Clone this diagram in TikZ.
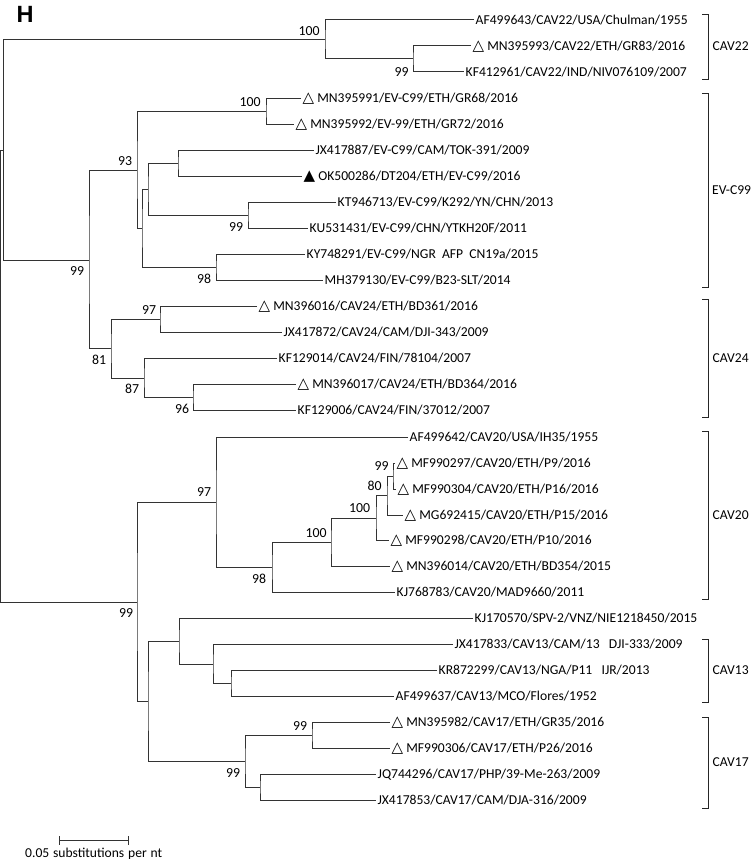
\documentclass[tikz,border=0pt]{standalone}
\usepackage{fontspec}
\setmainfont{Carlito}
\newfontfamily\trifont{DejaVu Sans}
\newfontfamily\hfont{Liberation Sans}
\newcommand{\opn}{{\trifont\fontsize{15}{16}\selectfont △}}
\newcommand{\fil}{{\trifont\fontsize{15}{16}\selectfont ▲}}
\tikzset{
  branch/.style={draw=black!80, line width=1pt},
  leaf/.style={anchor=west, inner xsep=1.5pt, inner ysep=0pt, text height=11pt, text depth=2.2pt, font=\fontsize{13.6}{16}\selectfont},
  boot/.style={anchor=center, inner sep=0pt, text height=11pt, text depth=2.2pt, font=\fontsize{13.8}{16}\selectfont},
  clade/.style={anchor=west, inner sep=0pt, text height=11pt, text depth=2.2pt, font=\fontsize{13.6}{16}\selectfont},
  bracket/.style={draw=black!85, line width=1pt},
}
\begin{document}
\begin{tikzpicture}[x=1pt,y=-1pt]
\useasboundingbox (0,0) rectangle (750,859);
\node[font=\hfont\bfseries\fontsize{23.5}{26}\selectfont, inner sep=0pt] (title) at (25,14.5) {H};
% leaves
\node[leaf] (l1) at (474,20) {AF499643/CAV22/USA/Chulman/1955};
\node[leaf] (l2) at (471,46) {\opn\ MN395993/CAV22/ETH/GR83/2016};
\node[leaf] (l3) at (464,72) {KF412961/CAV22/IND/NIV076109/2007};
\node[leaf] (l4) at (301,98) {\opn\ MN395991/EV-C99/ETH/GR68/2016};
\node[leaf] (l5) at (294,124) {\opn\ MN395992/EV-99/ETH/GR72/2016};
\node[leaf] (l6) at (314,150) {JX417887/EV-C99/CAM/TOK-391/2009};
\node[leaf] (l7) at (302,176) {\fil\ OK500286/DT204/ETH/EV-C99/2016};
\node[leaf] (l8) at (336,202) {KT946713/EV-C99/K292/YN/CHN/2013};
\node[leaf] (l9) at (308,228) {KU531431/EV-C99/CHN/YTKH20F/2011};
\node[leaf] (l10) at (305,254) {KY748291/EV-C99/NGR\ \ AFP\ \ CN19a/2015};
\node[leaf] (l11) at (323,280) {MH379130/EV-C99/B23-SLT/2014};
\node[leaf] (l12) at (257,306) {\opn\ MN396016/CAV24/ETH/BD361/2016};
\node[leaf] (l13) at (282,332) {JX417872/CAV24/CAM/DJI-343/2009};
\node[leaf] (l14) at (277,358) {KF129014/CAV24/FIN/78104/2007};
\node[leaf] (l15) at (296,384) {\opn\ MN396017/CAV24/ETH/BD364/2016};
\node[leaf] (l16) at (296,410) {KF129006/CAV24/FIN/37012/2007};
\node[leaf] (l17) at (408,437) {AF499642/CAV20/USA/IH35/1955};
\node[leaf] (l18) at (395,463) {\opn\ MF990297/CAV20/ETH/P9/2016};
\node[leaf] (l19) at (396,489) {\opn\ MF990304/CAV20/ETH/P16/2016};
\node[leaf] (l20) at (403,515) {\opn\ MG692415/CAV20/ETH/P15/2016};
\node[leaf] (l21) at (389,540) {\opn\ MF990298/CAV20/ETH/P10/2016};
\node[leaf] (l22) at (390,566) {\opn\ MN396014/CAV20/ETH/BD354/2015};
\node[leaf] (l23) at (395,592) {KJ768783/CAV20/MAD9660/2011};
\node[leaf] (l24) at (473,618) {KJ170570/SPV-2/VNZ/NIE1218450/2015};
\node[leaf] (l25) at (453,644) {JX417833/CAV13/CAM/13\ \ \ DJI-333/2009};
\node[leaf] (l26) at (437,670) {KR872299/CAV13/NGA/P11\ \ \ IJR/2013};
\node[leaf] (l27) at (394,696) {AF499637/CAV13/MCO/Flores/1952};
\node[leaf] (l28) at (390,722) {\opn\ MN395982/CAV17/ETH/GR35/2016};
\node[leaf] (l29) at (390,748) {\opn\ MF990306/CAV17/ETH/P26/2016};
\node[leaf] (l30) at (376,774) {JQ744296/CAV17/PHP/39-Me-263/2009};
\node[leaf] (l31) at (376,800) {JX417853/CAV17/CAM/DJA-316/2009};
% internal nodes
\coordinate (nB) at (413,59);
\coordinate (nA) at (325,40);
\coordinate (nN4) at (266,111);
\coordinate (nC) at (178,163);
\coordinate (nD) at (248,215);
\coordinate (nE) at (148,189);
\coordinate (nG) at (216,267);
\coordinate (nF) at (142,228);
\coordinate (nH) at (137,170);
\coordinate (nK) at (160,319);
\coordinate (nM) at (193,397);
\coordinate (nL) at (144,378);
\coordinate (nN) at (111,348);
\coordinate (nI) at (89,260);
\coordinate (nJ) at (3.6,150);
\coordinate (nU) at (393,476);
\coordinate (nT) at (387,495);
\coordinate (nS) at (376,518);
\coordinate (nR) at (331,542);
\coordinate (nQ) at (272,567);
\coordinate (nP) at (216,502);
\coordinate (nX) at (231,683);
\coordinate (nW) at (213,664);
\coordinate (nV) at (179,641);
\coordinate (nAA) at (312,735);
\coordinate (nAB) at (260,787);
\coordinate (nZ) at (245,761);
\coordinate (nY) at (148,701);
\coordinate (nO) at (137,602);
\coordinate (root) at (0.6,376);
% branches
\draw[branch] (l2.west) -| (nB) |- (l3.west);
\draw[branch] (l1.west) -| (nA) |- (nB);
\draw[branch] (l4.west) -| (nN4) |- (l5.west);
\draw[branch] (l6.west) -| (nC) |- (l7.west);
\draw[branch] (l8.west) -| (nD) |- (l9.west);
\draw[branch] (nC) -| (nE) |- (nD);
\draw[branch] (l10.west) -| (nG) |- (l11.west);
\draw[branch] (nE) -| (nF) |- (nG);
\draw[branch] (nN4) -| (nH) |- (nF);
\draw[branch] (l12.west) -| (nK) |- (l13.west);
\draw[branch] (l15.west) -| (nM) |- (l16.west);
\draw[branch] (l14.west) -| (nL) |- (nM);
\draw[branch] (nK) -| (nN) |- (nL);
\draw[branch] (nH) -| (nI) |- (nN);
\draw[branch] (nA) -| (nJ) |- (nI);
\draw[branch] (l18.west) -| (nU) |- (l19.west);
\draw[branch] (nU) -| (nT) |- (l20.west);
\draw[branch] (nT) -| (nS) |- (l21.west);
\draw[branch] (nS) -| (nR) |- (l22.west);
\draw[branch] (nR) -| (nQ) |- (l23.west);
\draw[branch] (l17.west) -| (nP) |- (nQ);
\draw[branch] (l26.west) -| (nX) |- (l27.west);
\draw[branch] (l25.west) -| (nW) |- (nX);
\draw[branch] (l24.west) -| (nV) |- (nW);
\draw[branch] (l28.west) -| (nAA) |- (l29.west);
\draw[branch] (l30.west) -| (nAB) |- (l31.west);
\draw[branch] (nAA) -| (nZ) |- (nAB);
\draw[branch] (nV) -| (nY) |- (nZ);
\draw[branch] (nP) -| (nO) |- (nY);
\draw[branch] (nJ) -| (root) |- (nO);
% bootstrap values
\node[boot] (bA) at (309,31) {100};
\node[boot] (bB) at (401.5,72) {99};
\node[boot] (bN4) at (250,102) {100};
\node[boot] (bH) at (125,161) {93};
\node[boot] (bD) at (236,227) {99};
\node[boot] (bG) at (204,279) {98};
\node[boot] (bI) at (77,271) {99};
\node[boot] (bK) at (149,310) {97};
\node[boot] (bN) at (99,360) {81};
\node[boot] (bL) at (132,389) {87};
\node[boot] (bM) at (182,409) {96};
\node[boot] (bP) at (204,492) {97};
\node[boot] (bU) at (381.5,466) {99};
\node[boot] (bT) at (374.5,486) {80};
\node[boot] (bS) at (359.5,508) {100};
\node[boot] (bR) at (316,533) {100};
\node[boot] (bQ) at (259,579) {98};
\node[boot] (bO) at (126,613) {99};
\node[boot] (bAA) at (300,726) {99};
\node[boot] (bZ) at (233,773) {99};
% clade brackets
\draw[bracket] (702,15) -- (708.3,15) -- (708.3,79) -- (702,79);
\node[clade] (c1) at (712.5,46) {CAV22};
\draw[bracket] (702,93) -- (708.3,93) -- (708.3,287) -- (702,287);
\node[clade] (c2) at (712,190) {EV-C99};
\draw[bracket] (702,299) -- (708.3,299) -- (708.3,417) -- (702,417);
\node[clade] (c3) at (712.5,358) {CAV24};
\draw[bracket] (702,431) -- (708.3,431) -- (708.3,599) -- (702,599);
\node[clade] (c4) at (712.5,515) {CAV20};
\draw[bracket] (702,639) -- (708.3,639) -- (708.3,702) -- (702,702);
\node[clade] (c5) at (712.5,670.5) {CAV13};
\draw[bracket] (702,717) -- (708.3,717) -- (708.3,808) -- (702,808);
\node[clade] (c6) at (712.5,762) {CAV17};
% scale bar
\coordinate (sb1) at (59.5,840);
\coordinate (sb2) at (128,840);
\draw[branch] (sb1) -- (sb2);
\draw[branch] ([yshift=-4.5pt]sb1) -- ([yshift=4.5pt]sb1);
\draw[branch] ([yshift=-4.5pt]sb2) -- ([yshift=4.5pt]sb2);
\node[boot, anchor=west, text depth=1pt, font=\fontsize{13.6}{16}\selectfont] (sbt) at (25,852) {\makebox[137pt][s]{0.05 substitutions per nt}};
\end{tikzpicture}
\end{document}
